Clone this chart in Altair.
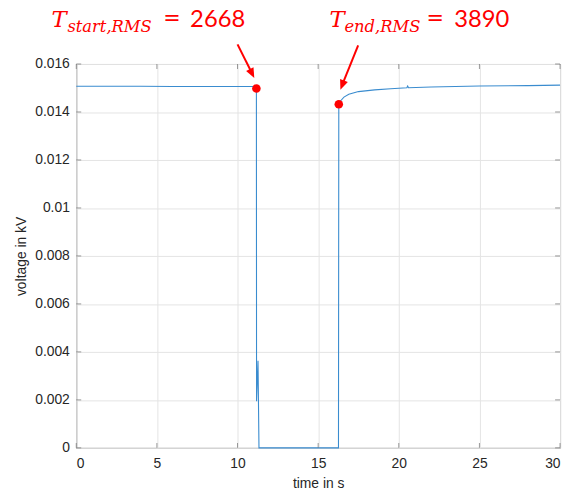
import altair as alt
import pandas as pd

# ---- data ----
time_s = [0, 2, 4, 6, 8, 10, 11.17, 11.18, 11.27, 11.33, 13, 15, 16.26, 16.28,
          16.4, 16.6, 16.9, 17.5, 18.5, 19.5, 20.5, 20.55, 20.6, 22, 25, 28, 30]
voltage_kv = [0.01507, 0.01507, 0.01507, 0.01506, 0.01506, 0.01506, 0.01506, 0.00194,
              0.00363, 0.0, 0.0, 0.0, 0.0, 0.01432,
              0.01447, 0.01462, 0.01474, 0.01485, 0.01492, 0.01497, 0.01501, 0.01508,
              0.01501, 0.01504, 0.01508, 0.01510, 0.01512]

x_ticks = [0, 5, 10, 15, 20, 25, 30]
y_ticks = [0, 0.002, 0.004, 0.006, 0.008, 0.01, 0.012, 0.014, 0.016]

marker_t = [11.17, 16.28]
marker_v = [0.01498, 0.01432]

# annotation arrows (start -> end of shaft, tip, head angle)
arrow_x = [10.00, 17.48]
arrow_y = [0.01682, 0.01678]
arrow_x2 = [10.82, 16.56]
arrow_y2 = [0.01572, 0.01524]
tip_x = [11.04, 16.38]
tip_y = [0.01542, 0.01493]
tip_angle = [153, 201]

# annotation texts
sym_text = ["T", "T"]
sym_x = [-1.53, 15.71]
sub_text = ["start,RMS", "end,RMS"]
sub_x = [-0.55, 16.63]
eq_text = ["=", "="]
eq_x = [5.40, 21.72]
num_text = ["2668", "3890"]
num_x = [7.06, 23.44]
text_y = [0.01753, 0.01753]
eq_y = [0.01761, 0.01761]
sub_y = [0.01735, 0.01735]

W, H = 489, 388
RED = "#ff0000"
BLUE = "#3a8ccf"
AX = "#6e6e6e"

xs = alt.Scale(domain=[0, 30], nice=False, zero=False)
ys = alt.Scale(domain=[0, 0.016], nice=False, zero=False)

df = pd.DataFrame({"t": time_s, "v": voltage_kv})

line = alt.Chart(df).mark_line(color=BLUE, strokeWidth=1.1).encode(
    x=alt.X("t:Q", scale=xs, axis=alt.Axis(
        values=x_ticks, title="time in s", grid=True, tickSize=0,
        labelPadding=9, titleY=40, titleBaseline="alphabetic", domain=False)),
    y=alt.Y("v:Q", scale=ys, axis=alt.Axis(
        values=y_ticks, title="voltage in kV", grid=True, tickSize=0,
        format="~g", labelPadding=7, titleX=-55, titleY=H / 2,
        titleBaseline="middle", domain=False)),
)

xt = pd.DataFrame({"t": x_ticks})
yt = pd.DataFrame({"v": y_ticks})
tick_b = alt.Chart(xt).mark_tick(orient="vertical", size=5, thickness=1, color=AX).encode(
    x=alt.X("t:Q", scale=xs), y=alt.datum(0, scale=ys), yOffset=alt.value(-2.5))
tick_t = alt.Chart(xt).mark_tick(orient="vertical", size=5, thickness=1, color=AX).encode(
    x=alt.X("t:Q", scale=xs), y=alt.datum(0.016, scale=ys), yOffset=alt.value(2.5))
tick_l = alt.Chart(yt).mark_tick(orient="horizontal", size=5, thickness=1, color=AX).encode(
    y=alt.Y("v:Q", scale=ys), x=alt.datum(0, scale=xs), xOffset=alt.value(2.5))
tick_r = alt.Chart(yt).mark_tick(orient="horizontal", size=5, thickness=1, color=AX).encode(
    y=alt.Y("v:Q", scale=ys), x=alt.datum(30, scale=xs), xOffset=alt.value(-2.5))

mk = pd.DataFrame({"t": marker_t, "v": marker_v})
dots = alt.Chart(mk).mark_point(filled=True, opacity=1, color=RED, size=75).encode(
    x=alt.X("t:Q", scale=xs), y=alt.Y("v:Q", scale=ys))

ar = pd.DataFrame({"x": arrow_x, "y": arrow_y, "x2": arrow_x2, "y2": arrow_y2,
                   "tx": tip_x, "ty": tip_y, "ang": tip_angle})
shafts = alt.Chart(ar).mark_rule(color=RED, strokeWidth=2).encode(
    x=alt.X("x:Q", scale=xs), y=alt.Y("y:Q", scale=ys), x2="x2:Q", y2="y2:Q")
heads = alt.Chart(ar).mark_point(
    filled=True, opacity=1, color=RED, size=400,
    shape="M0,0 L-0.42,1 L0.42,1 Z").encode(
    x=alt.X("tx:Q", scale=xs), y=alt.Y("ty:Q", scale=ys),
    angle=alt.Angle("ang:Q", scale=None))

tx = pd.DataFrame({"s": sym_text, "sx": sym_x, "sub": sub_text, "subx": sub_x,
                   "eq": eq_text, "ex": eq_x, "num": num_text, "nx": num_x,
                   "ty": text_y, "ey": eq_y, "suby": sub_y})
t_sym = alt.Chart(tx).mark_text(
    align="left", baseline="alphabetic", font="DejaVu Serif", fontStyle="italic",
    fontSize=23, color=RED).encode(
    x=alt.X("sx:Q", scale=xs), y=alt.Y("ty:Q", scale=ys), text="s:N")
t_sub = alt.Chart(tx).mark_text(
    align="left", baseline="alphabetic", font="DejaVu Serif", fontStyle="italic",
    fontSize=16.5, color=RED).encode(
    x=alt.X("subx:Q", scale=xs), y=alt.Y("suby:Q", scale=ys), text="sub:N")
t_eq = alt.Chart(tx).mark_text(
    align="left", baseline="alphabetic", font="DejaVu Sans", fontSize=21,
    color=RED).encode(
    x=alt.X("ex:Q", scale=xs), y=alt.Y("ey:Q", scale=ys), text="eq:N")
t_num = alt.Chart(tx).mark_text(
    align="left", baseline="alphabetic", font="Lato", fontSize=24, color=RED).encode(
    x=alt.X("nx:Q", scale=xs), y=alt.Y("ty:Q", scale=ys), text="num:N")

chart = alt.layer(line, tick_b, tick_t, tick_l, tick_r, shafts, heads, dots,
                  t_sym, t_sub, t_eq, t_num).properties(
    width=W, height=H,
    background="white",
    autosize=alt.AutoSizeParams(type="none"),
    padding={"left": 69, "top": 54, "right": 5, "bottom": 41},
).configure_view(stroke=AX, strokeWidth=1).configure_axis(
    labelFont="Liberation Sans", titleFont="Liberation Sans",
    labelFontSize=14, titleFontSize=14, labelColor="#262626", titleColor="#262626",
    titleFontWeight="normal", gridColor="#e4e4e4", gridWidth=1,
)

chart.save("out.html", embed_options={"renderer": "svg", "actions": False})
